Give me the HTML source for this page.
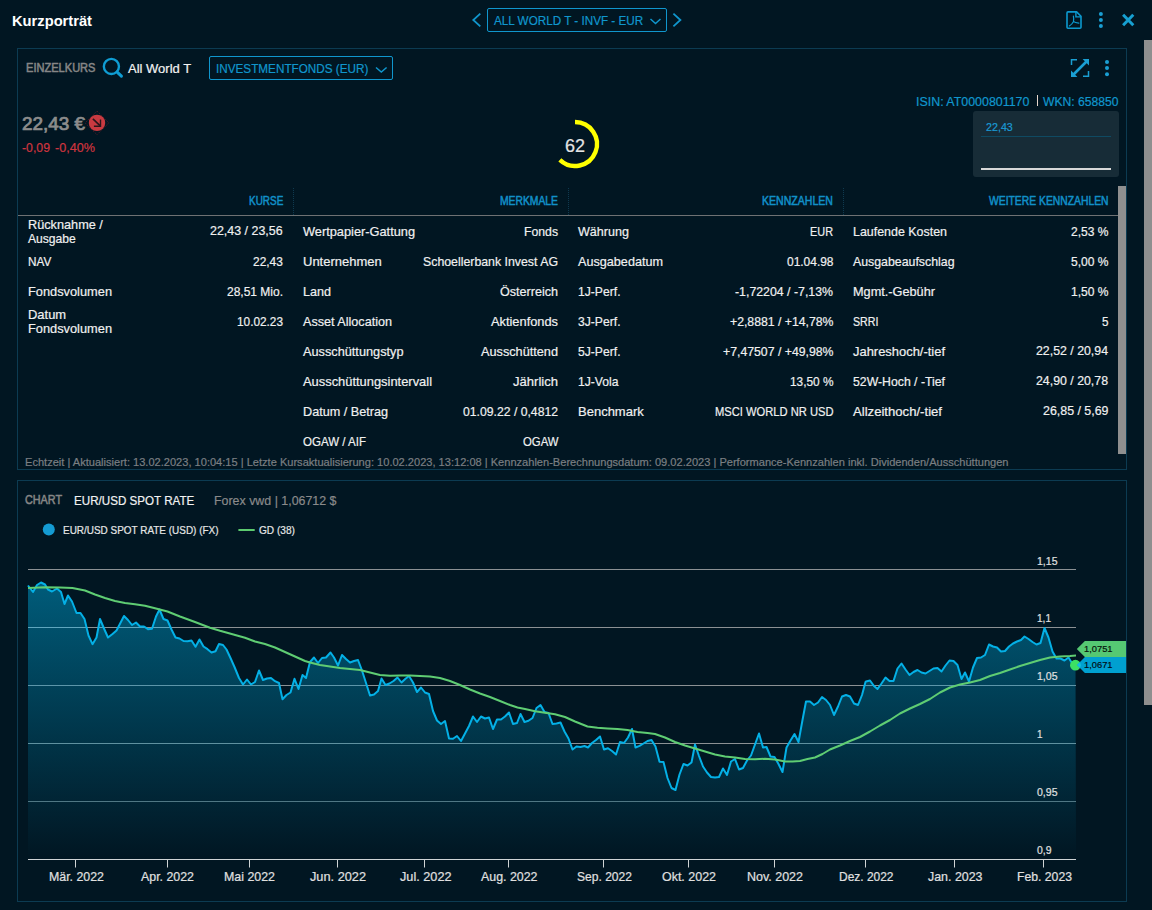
<!DOCTYPE html>
<html><head><meta charset="utf-8"><title>Kurzportr&auml;t</title>
<style>
html,body{margin:0;padding:0;}
body{width:1152px;height:910px;overflow:hidden;background:#011622;font-family:"Liberation Sans",sans-serif;position:relative;}
.t{position:absolute;white-space:nowrap;line-height:20px;}
.r{position:absolute;}
svg{position:absolute;left:0;top:0;}
</style></head><body>
<div class="r" style="left:17px;top:48px;width:1108px;height:420px;border:1px solid #0c3b52;"></div>
<div class="r" style="left:17px;top:480px;width:1108px;height:420px;border:1px solid #0c3b52;"></div>
<div class="r" style="left:1144px;top:40px;width:8px;height:665px;background:#8f8f8f;"></div>
<div class="r" style="left:1118px;top:186px;width:8px;height:268px;background:#8f8f8f;"></div>
<span class="t" style="top:10.80px;font-size:15px;color:#ffffff;font-weight:bold;left:12.00px;transform-origin:0 50%;transform:scaleX(0.9796);">Kurzporträt</span>
<div class="r" style="left:487px;top:8px;width:178px;height:22px;border:1px solid #1096cd;border-radius:2px;"></div>
<span class="t" style="top:10.50px;font-size:13px;color:#1096cd;-webkit-text-stroke:0.2px #1096cd;left:493.80px;transform-origin:0 50%;transform:scaleX(0.8993);">ALL WORLD T - INVF - EUR</span>
<span class="t" style="top:57.67px;font-size:12.5px;color:#868686;-webkit-text-stroke:0.53px #868686;left:25.50px;transform-origin:0 50%;transform:scaleX(0.8854);">EINZELKURS</span>
<span class="t" style="top:58.50px;font-size:13px;color:#f2f2f2;-webkit-text-stroke:0.2px #f2f2f2;left:128.00px;transform-origin:0 50%;">All World T</span>
<div class="r" style="left:209px;top:56px;width:182px;height:22px;border:1px solid #1096cd;border-radius:2px;"></div>
<span class="t" style="top:58.80px;font-size:13px;color:#1096cd;-webkit-text-stroke:0.2px #1096cd;left:216.40px;transform-origin:0 50%;transform:scaleX(0.9017);">INVESTMENTFONDS (EUR)</span>
<span class="t" style="top:114.44px;font-size:17.5px;color:#8c8c8c;-webkit-text-stroke:0.74px #8c8c8c;left:22.00px;transform-origin:0 50%;transform:scaleX(1.0790);">22,43 €</span>
<span class="t" style="top:137.67px;font-size:12.5px;color:#cf353f;-webkit-text-stroke:0.2px #cf353f;left:22.00px;transform-origin:0 50%;transform:scaleX(0.9827);">-0,09</span>
<span class="t" style="top:137.67px;font-size:12.5px;color:#cf353f;-webkit-text-stroke:0.2px #cf353f;left:55.00px;transform-origin:0 50%;transform:scaleX(1.0099);">-0,40%</span>
<span class="t" style="top:135.96px;font-size:18px;color:#e4e4e4;-webkit-text-stroke:0.2px #e4e4e4;left:565.00px;transform-origin:0 50%;">62</span>
<span class="t" style="top:92.27px;font-size:12.5px;color:#1096cd;-webkit-text-stroke:0.2px #1096cd;left:916.00px;transform-origin:0 50%;transform:scaleX(0.9929);">ISIN: AT0000801170</span>
<span class="t" style="top:92.27px;font-size:12.5px;color:#1096cd;-webkit-text-stroke:0.2px #1096cd;left:1043.00px;transform-origin:0 50%;transform:scaleX(0.9715);">WKN: 658850</span>
<div class="r" style="left:1036.5px;top:95px;width:1.5px;height:11px;background:#e6d6cc;"></div>
<div class="r" style="left:973px;top:111px;width:146px;height:66px;background:#172c37;border-radius:3px;"></div>
<span class="t" style="top:117.36px;font-size:10.5px;color:#1a9ad4;-webkit-text-stroke:0.2px #1a9ad4;left:985.80px;transform-origin:0 50%;transform:scaleX(1.0199);">22,43</span>
<div class="r" style="left:981px;top:136px;width:130px;height:1px;background:#0f4a62;"></div>
<div class="r" style="left:981px;top:168px;width:130px;height:2px;background:#d8d8d8;"></div>
<div class="r" style="left:18px;top:215px;width:1100px;height:1px;background:#6f7173;"></div>
<div class="r" style="left:293px;top:188px;width:0;height:27px;border-left:1px dotted #0f3a50;"></div>
<div class="r" style="left:568px;top:188px;width:0;height:27px;border-left:1px dotted #0f3a50;"></div>
<div class="r" style="left:843px;top:188px;width:0;height:27px;border-left:1px dotted #0f3a50;"></div>
<span class="t" style="top:190.67px;font-size:12.5px;color:#1190c8;-webkit-text-stroke:0.53px #1190c8;left:248.70px;transform-origin:0 50%;transform:scaleX(0.7964);">KURSE</span>
<span class="t" style="top:190.67px;font-size:12.5px;color:#1190c8;-webkit-text-stroke:0.53px #1190c8;left:500.00px;transform-origin:0 50%;transform:scaleX(0.8267);">MERKMALE</span>
<span class="t" style="top:190.67px;font-size:12.5px;color:#1190c8;-webkit-text-stroke:0.53px #1190c8;left:762.00px;transform-origin:0 50%;transform:scaleX(0.8447);">KENNZAHLEN</span>
<span class="t" style="top:190.67px;font-size:12.5px;color:#1190c8;-webkit-text-stroke:0.53px #1190c8;left:988.50px;transform-origin:0 50%;transform:scaleX(0.8272);">WEITERE KENNZAHLEN</span>
<span class="t" style="top:215.00px;font-size:13px;color:#f0f0f0;-webkit-text-stroke:0.2px #f0f0f0;left:28.00px;transform-origin:0 50%;transform:scaleX(0.9779);">Rücknahme /</span>
<span class="t" style="top:228.50px;font-size:13px;color:#f0f0f0;-webkit-text-stroke:0.2px #f0f0f0;left:28.00px;transform-origin:0 50%;transform:scaleX(0.9314);">Ausgabe</span>
<span class="t" style="top:220.70px;font-size:13px;color:#f0f0f0;-webkit-text-stroke:0.2px #f0f0f0;left:210.40px;transform-origin:0 50%;transform:scaleX(0.9565);">22,43 / 23,56</span>
<span class="t" style="top:251.50px;font-size:13px;color:#f0f0f0;-webkit-text-stroke:0.2px #f0f0f0;left:28.00px;transform-origin:0 50%;transform:scaleX(0.9043);">NAV</span>
<span class="t" style="top:251.50px;font-size:13px;color:#f0f0f0;-webkit-text-stroke:0.2px #f0f0f0;left:253.10px;transform-origin:0 50%;transform:scaleX(0.9191);">22,43</span>
<span class="t" style="top:281.50px;font-size:13px;color:#f0f0f0;-webkit-text-stroke:0.2px #f0f0f0;left:28.00px;transform-origin:0 50%;transform:scaleX(0.9851);">Fondsvolumen</span>
<span class="t" style="top:281.50px;font-size:13px;color:#f0f0f0;-webkit-text-stroke:0.2px #f0f0f0;left:227.00px;transform-origin:0 50%;transform:scaleX(0.9225);">28,51 Mio.</span>
<span class="t" style="top:305.00px;font-size:13px;color:#f0f0f0;-webkit-text-stroke:0.2px #f0f0f0;left:28.00px;transform-origin:0 50%;transform:scaleX(0.9950);">Datum</span>
<span class="t" style="top:318.50px;font-size:13px;color:#f0f0f0;-webkit-text-stroke:0.2px #f0f0f0;left:28.00px;transform-origin:0 50%;transform:scaleX(0.9851);">Fondsvolumen</span>
<span class="t" style="top:311.50px;font-size:13px;color:#f0f0f0;-webkit-text-stroke:0.2px #f0f0f0;left:237.00px;transform-origin:0 50%;transform:scaleX(0.9090);">10.02.23</span>
<span class="t" style="top:221.50px;font-size:13px;color:#f0f0f0;-webkit-text-stroke:0.2px #f0f0f0;left:303.00px;transform-origin:0 50%;transform:scaleX(0.9831);">Wertpapier-Gattung</span>
<span class="t" style="top:221.50px;font-size:13px;color:#f0f0f0;-webkit-text-stroke:0.2px #f0f0f0;left:524.00px;transform-origin:0 50%;transform:scaleX(0.9410);">Fonds</span>
<span class="t" style="top:251.50px;font-size:13px;color:#f0f0f0;-webkit-text-stroke:0.2px #f0f0f0;left:303.00px;transform-origin:0 50%;">Unternehmen</span>
<span class="t" style="top:251.50px;font-size:13px;color:#f0f0f0;-webkit-text-stroke:0.2px #f0f0f0;left:423.00px;transform-origin:0 50%;transform:scaleX(0.9483);">Schoellerbank Invest AG</span>
<span class="t" style="top:281.50px;font-size:13px;color:#f0f0f0;-webkit-text-stroke:0.2px #f0f0f0;left:303.00px;transform-origin:0 50%;transform:scaleX(0.9682);">Land</span>
<span class="t" style="top:281.50px;font-size:13px;color:#f0f0f0;-webkit-text-stroke:0.2px #f0f0f0;left:500.00px;transform-origin:0 50%;transform:scaleX(0.9673);">Österreich</span>
<span class="t" style="top:311.50px;font-size:13px;color:#f0f0f0;-webkit-text-stroke:0.2px #f0f0f0;left:303.00px;transform-origin:0 50%;transform:scaleX(0.9697);">Asset Allocation</span>
<span class="t" style="top:311.50px;font-size:13px;color:#f0f0f0;-webkit-text-stroke:0.2px #f0f0f0;left:491.00px;transform-origin:0 50%;transform:scaleX(0.9862);">Aktienfonds</span>
<span class="t" style="top:341.50px;font-size:13px;color:#f0f0f0;-webkit-text-stroke:0.2px #f0f0f0;left:303.00px;transform-origin:0 50%;transform:scaleX(0.9794);">Ausschüttungstyp</span>
<span class="t" style="top:341.50px;font-size:13px;color:#f0f0f0;-webkit-text-stroke:0.2px #f0f0f0;left:481.00px;transform-origin:0 50%;transform:scaleX(0.9775);">Ausschüttend</span>
<span class="t" style="top:371.50px;font-size:13px;color:#f0f0f0;-webkit-text-stroke:0.2px #f0f0f0;left:303.00px;transform-origin:0 50%;transform:scaleX(0.9917);">Ausschüttungsintervall</span>
<span class="t" style="top:371.50px;font-size:13px;color:#f0f0f0;-webkit-text-stroke:0.2px #f0f0f0;left:513.00px;transform-origin:0 50%;transform:scaleX(1.0045);">Jährlich</span>
<span class="t" style="top:401.50px;font-size:13px;color:#f0f0f0;-webkit-text-stroke:0.2px #f0f0f0;left:303.00px;transform-origin:0 50%;transform:scaleX(0.9722);">Datum / Betrag</span>
<span class="t" style="top:401.50px;font-size:13px;color:#f0f0f0;-webkit-text-stroke:0.2px #f0f0f0;left:463.00px;transform-origin:0 50%;transform:scaleX(0.9387);">01.09.22 / 0,4812</span>
<span class="t" style="top:431.50px;font-size:13px;color:#f0f0f0;-webkit-text-stroke:0.2px #f0f0f0;left:303.00px;transform-origin:0 50%;transform:scaleX(0.8870);">OGAW / AIF</span>
<span class="t" style="top:431.50px;font-size:13px;color:#f0f0f0;-webkit-text-stroke:0.2px #f0f0f0;left:522.50px;transform-origin:0 50%;transform:scaleX(0.8726);">OGAW</span>
<span class="t" style="top:221.50px;font-size:13px;color:#f0f0f0;-webkit-text-stroke:0.2px #f0f0f0;left:578.00px;transform-origin:0 50%;transform:scaleX(0.9668);">Währung</span>
<span class="t" style="top:221.50px;font-size:13px;color:#f0f0f0;-webkit-text-stroke:0.2px #f0f0f0;left:810.00px;transform-origin:0 50%;transform:scaleX(0.8379);">EUR</span>
<span class="t" style="top:251.50px;font-size:13px;color:#f0f0f0;-webkit-text-stroke:0.2px #f0f0f0;left:578.00px;transform-origin:0 50%;transform:scaleX(0.9719);">Ausgabedatum</span>
<span class="t" style="top:251.50px;font-size:13px;color:#f0f0f0;-webkit-text-stroke:0.2px #f0f0f0;left:786.50px;transform-origin:0 50%;transform:scaleX(0.9189);">01.04.98</span>
<span class="t" style="top:281.50px;font-size:13px;color:#f0f0f0;-webkit-text-stroke:0.2px #f0f0f0;left:578.00px;transform-origin:0 50%;transform:scaleX(0.9338);">1J-Perf.</span>
<span class="t" style="top:281.50px;font-size:13px;color:#f0f0f0;-webkit-text-stroke:0.2px #f0f0f0;left:735.00px;transform-origin:0 50%;transform:scaleX(0.9483);">-1,72204 / -7,13%</span>
<span class="t" style="top:311.50px;font-size:13px;color:#f0f0f0;-webkit-text-stroke:0.2px #f0f0f0;left:578.00px;transform-origin:0 50%;transform:scaleX(0.9338);">3J-Perf.</span>
<span class="t" style="top:311.50px;font-size:13px;color:#f0f0f0;-webkit-text-stroke:0.2px #f0f0f0;left:729.50px;transform-origin:0 50%;transform:scaleX(0.9420);">+2,8881 / +14,78%</span>
<span class="t" style="top:341.50px;font-size:13px;color:#f0f0f0;-webkit-text-stroke:0.2px #f0f0f0;left:578.00px;transform-origin:0 50%;transform:scaleX(0.9338);">5J-Perf.</span>
<span class="t" style="top:341.50px;font-size:13px;color:#f0f0f0;-webkit-text-stroke:0.2px #f0f0f0;left:722.50px;transform-origin:0 50%;transform:scaleX(0.9436);">+7,47507 / +49,98%</span>
<span class="t" style="top:371.50px;font-size:13px;color:#f0f0f0;-webkit-text-stroke:0.2px #f0f0f0;left:578.00px;transform-origin:0 50%;transform:scaleX(0.9340);">1J-Vola</span>
<span class="t" style="top:371.50px;font-size:13px;color:#f0f0f0;-webkit-text-stroke:0.2px #f0f0f0;left:789.50px;transform-origin:0 50%;transform:scaleX(0.9119);">13,50 %</span>
<span class="t" style="top:401.50px;font-size:13px;color:#f0f0f0;-webkit-text-stroke:0.2px #f0f0f0;left:578.00px;transform-origin:0 50%;">Benchmark</span>
<span class="t" style="top:401.50px;font-size:13px;color:#f0f0f0;-webkit-text-stroke:0.2px #f0f0f0;left:714.50px;transform-origin:0 50%;transform:scaleX(0.8590);">MSCI WORLD NR USD</span>
<span class="t" style="top:221.50px;font-size:13px;color:#f0f0f0;-webkit-text-stroke:0.2px #f0f0f0;left:853.00px;transform-origin:0 50%;transform:scaleX(0.9562);">Laufende Kosten</span>
<span class="t" style="top:221.50px;font-size:13px;color:#f0f0f0;-webkit-text-stroke:0.2px #f0f0f0;left:1070.50px;transform-origin:0 50%;transform:scaleX(0.9266);">2,53 %</span>
<span class="t" style="top:251.50px;font-size:13px;color:#f0f0f0;-webkit-text-stroke:0.2px #f0f0f0;left:853.00px;transform-origin:0 50%;transform:scaleX(0.9488);">Ausgabeaufschlag</span>
<span class="t" style="top:251.50px;font-size:13px;color:#f0f0f0;-webkit-text-stroke:0.2px #f0f0f0;left:1070.50px;transform-origin:0 50%;transform:scaleX(0.9266);">5,00 %</span>
<span class="t" style="top:281.50px;font-size:13px;color:#f0f0f0;-webkit-text-stroke:0.2px #f0f0f0;left:853.00px;transform-origin:0 50%;transform:scaleX(0.9785);">Mgmt.-Gebühr</span>
<span class="t" style="top:281.50px;font-size:13px;color:#f0f0f0;-webkit-text-stroke:0.2px #f0f0f0;left:1070.50px;transform-origin:0 50%;transform:scaleX(0.9266);">1,50 %</span>
<span class="t" style="top:311.50px;font-size:13px;color:#f0f0f0;-webkit-text-stroke:0.2px #f0f0f0;left:853.00px;transform-origin:0 50%;transform:scaleX(0.8210);">SRRI</span>
<span class="t" style="top:311.50px;font-size:13px;color:#f0f0f0;-webkit-text-stroke:0.2px #f0f0f0;left:1101.50px;transform-origin:0 50%;transform:scaleX(0.8990);">5</span>
<span class="t" style="top:341.50px;font-size:13px;color:#f0f0f0;-webkit-text-stroke:0.2px #f0f0f0;left:853.00px;transform-origin:0 50%;transform:scaleX(0.9947);">Jahreshoch/-tief</span>
<span class="t" style="top:340.80px;font-size:13px;color:#f0f0f0;-webkit-text-stroke:0.2px #f0f0f0;left:1036.00px;transform-origin:0 50%;transform:scaleX(0.9486);">22,52 / 20,94</span>
<span class="t" style="top:371.50px;font-size:13px;color:#f0f0f0;-webkit-text-stroke:0.2px #f0f0f0;left:853.00px;transform-origin:0 50%;transform:scaleX(0.9433);">52W-Hoch / -Tief</span>
<span class="t" style="top:370.80px;font-size:13px;color:#f0f0f0;-webkit-text-stroke:0.2px #f0f0f0;left:1036.00px;transform-origin:0 50%;transform:scaleX(0.9486);">24,90 / 20,78</span>
<span class="t" style="top:401.50px;font-size:13px;color:#f0f0f0;-webkit-text-stroke:0.2px #f0f0f0;left:853.00px;transform-origin:0 50%;transform:scaleX(1.0096);">Allzeithoch/-tief</span>
<span class="t" style="top:400.80px;font-size:13px;color:#f0f0f0;-webkit-text-stroke:0.2px #f0f0f0;left:1042.50px;transform-origin:0 50%;transform:scaleX(0.9538);">26,85 / 5,69</span>
<span class="t" style="top:451.89px;font-size:11px;color:#7b7f82;-webkit-text-stroke:0.2px #7b7f82;left:25.00px;transform-origin:0 50%;transform:scaleX(1.0060);">Echtzeit | Aktualisiert: 13.02.2023, 10:04:15 | Letzte Kursaktualisierung: 10.02.2023, 13:12:08 | Kennzahlen-Berechnungsdatum: 09.02.2023 | Performance-Kennzahlen inkl. Dividenden/Ausschüttungen</span>
<span class="t" style="top:490.17px;font-size:12.5px;color:#868686;-webkit-text-stroke:0.53px #868686;left:25.00px;transform-origin:0 50%;transform:scaleX(0.8639);">CHART</span>
<span class="t" style="top:490.50px;font-size:13px;color:#f2f2f2;-webkit-text-stroke:0.2px #f2f2f2;left:74.40px;transform-origin:0 50%;transform:scaleX(0.8938);">EUR/USD SPOT RATE</span>
<span class="t" style="top:490.50px;font-size:13px;color:#8a8a8a;-webkit-text-stroke:0.2px #8a8a8a;left:213.75px;transform-origin:0 50%;transform:scaleX(0.9541);">Forex vwd | 1,06712 $</span>
<span class="t" style="top:519.94px;font-size:11px;color:#e6e6e6;-webkit-text-stroke:0.2px #e6e6e6;left:62.50px;transform-origin:0 50%;transform:scaleX(0.9044);">EUR/USD SPOT RATE (USD) (FX)</span>
<span class="t" style="top:519.94px;font-size:11px;color:#e6e6e6;-webkit-text-stroke:0.2px #e6e6e6;left:259.40px;transform-origin:0 50%;transform:scaleX(0.9177);">GD (38)</span>
<span class="t" style="top:867.00px;font-size:13px;color:#e0e0e0;-webkit-text-stroke:0.2px #e0e0e0;left:49.00px;transform-origin:0 50%;transform:scaleX(0.9513);">Mär. 2022</span>
<span class="t" style="top:867.00px;font-size:13px;color:#e0e0e0;-webkit-text-stroke:0.2px #e0e0e0;left:141.00px;transform-origin:0 50%;transform:scaleX(0.9522);">Apr. 2022</span>
<span class="t" style="top:867.00px;font-size:13px;color:#e0e0e0;-webkit-text-stroke:0.2px #e0e0e0;left:224.00px;transform-origin:0 50%;transform:scaleX(0.9536);">Mai 2022</span>
<span class="t" style="top:867.00px;font-size:13px;color:#e0e0e0;-webkit-text-stroke:0.2px #e0e0e0;left:310.00px;transform-origin:0 50%;transform:scaleX(0.9807);">Jun. 2022</span>
<span class="t" style="top:867.00px;font-size:13px;color:#e0e0e0;-webkit-text-stroke:0.2px #e0e0e0;left:399.50px;transform-origin:0 50%;transform:scaleX(0.9761);">Jul. 2022</span>
<span class="t" style="top:867.00px;font-size:13px;color:#e0e0e0;-webkit-text-stroke:0.2px #e0e0e0;left:480.50px;transform-origin:0 50%;transform:scaleX(0.9532);">Aug. 2022</span>
<span class="t" style="top:867.00px;font-size:13px;color:#e0e0e0;-webkit-text-stroke:0.2px #e0e0e0;left:576.50px;transform-origin:0 50%;transform:scaleX(0.9279);">Sep. 2022</span>
<span class="t" style="top:867.00px;font-size:13px;color:#e0e0e0;-webkit-text-stroke:0.2px #e0e0e0;left:661.50px;transform-origin:0 50%;transform:scaleX(0.9580);">Okt. 2022</span>
<span class="t" style="top:867.00px;font-size:13px;color:#e0e0e0;-webkit-text-stroke:0.2px #e0e0e0;left:746.50px;transform-origin:0 50%;transform:scaleX(0.9606);">Nov. 2022</span>
<span class="t" style="top:867.00px;font-size:13px;color:#e0e0e0;-webkit-text-stroke:0.2px #e0e0e0;left:838.50px;transform-origin:0 50%;transform:scaleX(0.9196);">Dez. 2022</span>
<span class="t" style="top:867.00px;font-size:13px;color:#e0e0e0;-webkit-text-stroke:0.2px #e0e0e0;left:927.50px;transform-origin:0 50%;transform:scaleX(0.9544);">Jan. 2023</span>
<span class="t" style="top:867.00px;font-size:13px;color:#e0e0e0;-webkit-text-stroke:0.2px #e0e0e0;left:1016.50px;transform-origin:0 50%;transform:scaleX(0.9394);">Feb. 2023</span>
<svg width="1152" height="910" viewBox="0 0 1152 910">
<defs><linearGradient id="ag" x1="0" y1="570" x2="0" y2="859" gradientUnits="userSpaceOnUse"><stop offset="0" stop-color="#005f7e"/><stop offset="1" stop-color="#011622"/></linearGradient>
<clipPath id="ac"><polygon points="28.0,859.0 28.0,585.5 33.0,592.0 37.0,585.0 41.0,582.5 45.0,584.5 48.0,589.5 52.0,591.5 57.0,588.5 61.0,592.0 64.5,604.0 68.0,595.5 72.0,601.5 76.5,613.0 80.5,613.0 84.5,619.0 88.5,635.5 92.5,644.2 96.5,637.5 100.0,619.0 104.0,628.5 108.0,637.5 112.5,634.0 116.5,630.5 120.0,623.8 124.0,616.0 128.0,620.0 132.0,625.0 136.0,622.5 140.0,626.5 144.0,626.5 148.0,629.2 152.0,628.8 156.0,616.5 159.5,609.5 163.5,619.0 167.5,620.5 171.5,629.5 175.5,637.5 179.5,638.5 183.5,641.0 187.5,641.2 191.5,640.5 195.5,646.8 199.5,639.5 203.5,646.5 207.5,649.2 211.5,652.5 215.5,651.2 219.0,644.0 223.0,645.0 226.5,649.5 230.5,658.0 234.5,667.0 239.0,678.0 243.0,684.5 247.0,679.5 251.0,684.5 255.0,682.0 259.0,670.5 263.0,680.0 267.0,678.5 271.0,678.0 275.0,681.2 279.0,683.0 282.5,699.2 286.5,695.0 290.5,692.5 294.5,678.8 298.5,689.0 302.5,675.0 306.0,678.0 310.0,662.0 314.0,657.5 318.0,663.0 322.0,658.0 326.0,657.5 330.5,652.5 334.0,657.5 338.0,665.5 342.0,655.0 346.0,659.0 350.0,662.5 354.0,661.0 358.0,660.0 362.0,670.5 366.0,683.0 370.0,695.5 374.0,694.5 378.0,691.0 381.5,678.5 385.5,685.0 389.5,683.5 393.5,681.0 397.5,677.5 401.5,682.5 405.5,678.8 409.0,676.0 413.0,682.5 417.0,692.0 421.0,687.5 425.0,692.5 429.0,694.0 433.0,711.0 437.0,720.5 441.0,724.0 445.0,721.0 449.0,738.5 453.0,738.8 457.0,736.0 461.0,741.0 465.0,733.5 469.0,726.0 473.0,716.5 477.0,722.0 481.0,716.5 485.0,718.5 489.0,717.5 493.0,729.0 497.0,719.5 501.0,719.5 505.0,716.5 509.0,712.5 513.0,724.0 517.0,723.0 520.5,714.0 524.5,722.0 528.5,720.8 532.5,718.0 536.5,708.0 540.5,705.0 544.5,712.0 548.5,713.0 552.5,724.0 556.5,723.5 560.5,722.5 564.5,731.5 568.5,738.5 572.5,749.5 576.5,746.5 580.5,747.0 584.5,746.0 588.0,747.5 592.0,743.0 596.0,740.0 600.0,736.5 604.0,749.5 608.0,748.2 612.0,751.0 616.0,754.5 620.0,742.0 624.0,743.0 628.0,737.5 632.0,729.0 635.5,747.5 639.5,745.8 643.5,743.5 647.5,741.0 651.5,740.0 655.5,746.5 659.5,761.8 663.5,762.0 667.5,778.0 671.5,788.0 675.5,790.0 679.5,774.5 683.5,764.0 687.5,765.5 691.5,762.5 695.0,744.5 699.0,756.0 703.0,766.5 707.0,772.5 711.0,777.0 715.0,777.5 719.0,777.0 723.0,768.5 727.0,775.0 731.0,761.5 735.0,759.0 739.0,769.5 743.0,768.0 747.0,760.5 751.0,755.5 755.0,744.5 759.0,733.5 763.0,747.5 766.5,747.0 770.5,756.5 774.5,757.0 778.5,764.0 782.5,772.0 786.5,747.5 790.5,740.5 794.5,734.0 798.5,742.0 802.5,720.0 806.0,701.5 810.0,701.5 814.0,705.0 818.0,702.5 822.0,697.0 826.0,700.0 830.0,705.0 834.0,715.0 838.0,706.5 842.0,696.5 846.0,695.0 850.0,696.5 854.0,703.5 858.0,705.0 862.0,695.0 865.5,682.0 866.0,681.5 870.0,680.5 874.0,686.0 877.5,689.0 881.5,683.5 885.5,677.5 889.5,681.0 893.5,681.0 897.5,668.5 901.5,663.5 905.5,669.5 909.5,675.0 913.5,672.0 917.5,670.0 921.5,672.5 925.5,673.5 929.5,671.0 933.5,668.5 937.5,668.0 941.5,671.5 945.5,665.5 949.5,660.5 953.5,661.0 957.5,665.0 961.5,679.0 965.0,672.5 969.0,681.5 973.0,667.5 977.0,658.0 981.0,657.5 985.0,655.0 989.0,644.5 993.0,646.5 997.0,647.5 1001.0,651.5 1005.0,651.0 1009.0,646.5 1013.0,643.5 1017.0,641.5 1021.0,640.0 1024.5,636.5 1028.5,639.0 1032.5,642.0 1036.5,644.5 1040.5,643.0 1044.5,628.0 1048.5,637.5 1052.5,651.5 1056.5,658.5 1060.5,658.5 1064.5,660.5 1068.5,657.5 1072.5,664.0 1075.5,665.0 1076.0,859.0"/></clipPath></defs>
<polygon points="28.0,859.0 28.0,585.5 33.0,592.0 37.0,585.0 41.0,582.5 45.0,584.5 48.0,589.5 52.0,591.5 57.0,588.5 61.0,592.0 64.5,604.0 68.0,595.5 72.0,601.5 76.5,613.0 80.5,613.0 84.5,619.0 88.5,635.5 92.5,644.2 96.5,637.5 100.0,619.0 104.0,628.5 108.0,637.5 112.5,634.0 116.5,630.5 120.0,623.8 124.0,616.0 128.0,620.0 132.0,625.0 136.0,622.5 140.0,626.5 144.0,626.5 148.0,629.2 152.0,628.8 156.0,616.5 159.5,609.5 163.5,619.0 167.5,620.5 171.5,629.5 175.5,637.5 179.5,638.5 183.5,641.0 187.5,641.2 191.5,640.5 195.5,646.8 199.5,639.5 203.5,646.5 207.5,649.2 211.5,652.5 215.5,651.2 219.0,644.0 223.0,645.0 226.5,649.5 230.5,658.0 234.5,667.0 239.0,678.0 243.0,684.5 247.0,679.5 251.0,684.5 255.0,682.0 259.0,670.5 263.0,680.0 267.0,678.5 271.0,678.0 275.0,681.2 279.0,683.0 282.5,699.2 286.5,695.0 290.5,692.5 294.5,678.8 298.5,689.0 302.5,675.0 306.0,678.0 310.0,662.0 314.0,657.5 318.0,663.0 322.0,658.0 326.0,657.5 330.5,652.5 334.0,657.5 338.0,665.5 342.0,655.0 346.0,659.0 350.0,662.5 354.0,661.0 358.0,660.0 362.0,670.5 366.0,683.0 370.0,695.5 374.0,694.5 378.0,691.0 381.5,678.5 385.5,685.0 389.5,683.5 393.5,681.0 397.5,677.5 401.5,682.5 405.5,678.8 409.0,676.0 413.0,682.5 417.0,692.0 421.0,687.5 425.0,692.5 429.0,694.0 433.0,711.0 437.0,720.5 441.0,724.0 445.0,721.0 449.0,738.5 453.0,738.8 457.0,736.0 461.0,741.0 465.0,733.5 469.0,726.0 473.0,716.5 477.0,722.0 481.0,716.5 485.0,718.5 489.0,717.5 493.0,729.0 497.0,719.5 501.0,719.5 505.0,716.5 509.0,712.5 513.0,724.0 517.0,723.0 520.5,714.0 524.5,722.0 528.5,720.8 532.5,718.0 536.5,708.0 540.5,705.0 544.5,712.0 548.5,713.0 552.5,724.0 556.5,723.5 560.5,722.5 564.5,731.5 568.5,738.5 572.5,749.5 576.5,746.5 580.5,747.0 584.5,746.0 588.0,747.5 592.0,743.0 596.0,740.0 600.0,736.5 604.0,749.5 608.0,748.2 612.0,751.0 616.0,754.5 620.0,742.0 624.0,743.0 628.0,737.5 632.0,729.0 635.5,747.5 639.5,745.8 643.5,743.5 647.5,741.0 651.5,740.0 655.5,746.5 659.5,761.8 663.5,762.0 667.5,778.0 671.5,788.0 675.5,790.0 679.5,774.5 683.5,764.0 687.5,765.5 691.5,762.5 695.0,744.5 699.0,756.0 703.0,766.5 707.0,772.5 711.0,777.0 715.0,777.5 719.0,777.0 723.0,768.5 727.0,775.0 731.0,761.5 735.0,759.0 739.0,769.5 743.0,768.0 747.0,760.5 751.0,755.5 755.0,744.5 759.0,733.5 763.0,747.5 766.5,747.0 770.5,756.5 774.5,757.0 778.5,764.0 782.5,772.0 786.5,747.5 790.5,740.5 794.5,734.0 798.5,742.0 802.5,720.0 806.0,701.5 810.0,701.5 814.0,705.0 818.0,702.5 822.0,697.0 826.0,700.0 830.0,705.0 834.0,715.0 838.0,706.5 842.0,696.5 846.0,695.0 850.0,696.5 854.0,703.5 858.0,705.0 862.0,695.0 865.5,682.0 866.0,681.5 870.0,680.5 874.0,686.0 877.5,689.0 881.5,683.5 885.5,677.5 889.5,681.0 893.5,681.0 897.5,668.5 901.5,663.5 905.5,669.5 909.5,675.0 913.5,672.0 917.5,670.0 921.5,672.5 925.5,673.5 929.5,671.0 933.5,668.5 937.5,668.0 941.5,671.5 945.5,665.5 949.5,660.5 953.5,661.0 957.5,665.0 961.5,679.0 965.0,672.5 969.0,681.5 973.0,667.5 977.0,658.0 981.0,657.5 985.0,655.0 989.0,644.5 993.0,646.5 997.0,647.5 1001.0,651.5 1005.0,651.0 1009.0,646.5 1013.0,643.5 1017.0,641.5 1021.0,640.0 1024.5,636.5 1028.5,639.0 1032.5,642.0 1036.5,644.5 1040.5,643.0 1044.5,628.0 1048.5,637.5 1052.5,651.5 1056.5,658.5 1060.5,658.5 1064.5,660.5 1068.5,657.5 1072.5,664.0 1075.5,665.0 1076.0,859.0" fill="url(#ag)"/>
<line x1="28" x2="1076" y1="569.5" y2="569.5" stroke="#8c9194" stroke-width="1"/>
<line x1="28" x2="1076" y1="627.5" y2="627.5" stroke="#8c9194" stroke-width="1"/>
<line x1="28" x2="1076" y1="627.5" y2="627.5" stroke="#5fa6be" stroke-width="1" clip-path="url(#ac)"/>
<line x1="28" x2="1076" y1="685.5" y2="685.5" stroke="#8c9194" stroke-width="1"/>
<line x1="28" x2="1076" y1="685.5" y2="685.5" stroke="#5d96aa" stroke-width="1" clip-path="url(#ac)"/>
<line x1="28" x2="1076" y1="743.5" y2="743.5" stroke="#8c9194" stroke-width="1"/>
<line x1="28" x2="1076" y1="743.5" y2="743.5" stroke="#5f91a0" stroke-width="1" clip-path="url(#ac)"/>
<line x1="28" x2="1076" y1="801.5" y2="801.5" stroke="#8c9194" stroke-width="1"/>
<line x1="28" x2="1076" y1="801.5" y2="801.5" stroke="#507784" stroke-width="1" clip-path="url(#ac)"/>
<line x1="28" x2="1076" y1="859.5" y2="859.5" stroke="#d0d4d6" stroke-width="1.2"/>
<line x1="75.5" x2="75.5" y1="859" y2="867.5" stroke="#d0d4d6" stroke-width="1"/>
<line x1="167.5" x2="167.5" y1="859" y2="867.5" stroke="#d0d4d6" stroke-width="1"/>
<line x1="249.5" x2="249.5" y1="859" y2="867.5" stroke="#d0d4d6" stroke-width="1"/>
<line x1="337.5" x2="337.5" y1="859" y2="867.5" stroke="#d0d4d6" stroke-width="1"/>
<line x1="424.5" x2="424.5" y1="859" y2="867.5" stroke="#d0d4d6" stroke-width="1"/>
<line x1="508.5" x2="508.5" y1="859" y2="867.5" stroke="#d0d4d6" stroke-width="1"/>
<line x1="603.5" x2="603.5" y1="859" y2="867.5" stroke="#d0d4d6" stroke-width="1"/>
<line x1="688.5" x2="688.5" y1="859" y2="867.5" stroke="#d0d4d6" stroke-width="1"/>
<line x1="774.5" x2="774.5" y1="859" y2="867.5" stroke="#d0d4d6" stroke-width="1"/>
<line x1="865.5" x2="865.5" y1="859" y2="867.5" stroke="#d0d4d6" stroke-width="1"/>
<line x1="954.5" x2="954.5" y1="859" y2="867.5" stroke="#d0d4d6" stroke-width="1"/>
<line x1="1043.5" x2="1043.5" y1="859" y2="867.5" stroke="#d0d4d6" stroke-width="1"/>
<polyline points="28.0,585.5 33.0,592.0 37.0,585.0 41.0,582.5 45.0,584.5 48.0,589.5 52.0,591.5 57.0,588.5 61.0,592.0 64.5,604.0 68.0,595.5 72.0,601.5 76.5,613.0 80.5,613.0 84.5,619.0 88.5,635.5 92.5,644.2 96.5,637.5 100.0,619.0 104.0,628.5 108.0,637.5 112.5,634.0 116.5,630.5 120.0,623.8 124.0,616.0 128.0,620.0 132.0,625.0 136.0,622.5 140.0,626.5 144.0,626.5 148.0,629.2 152.0,628.8 156.0,616.5 159.5,609.5 163.5,619.0 167.5,620.5 171.5,629.5 175.5,637.5 179.5,638.5 183.5,641.0 187.5,641.2 191.5,640.5 195.5,646.8 199.5,639.5 203.5,646.5 207.5,649.2 211.5,652.5 215.5,651.2 219.0,644.0 223.0,645.0 226.5,649.5 230.5,658.0 234.5,667.0 239.0,678.0 243.0,684.5 247.0,679.5 251.0,684.5 255.0,682.0 259.0,670.5 263.0,680.0 267.0,678.5 271.0,678.0 275.0,681.2 279.0,683.0 282.5,699.2 286.5,695.0 290.5,692.5 294.5,678.8 298.5,689.0 302.5,675.0 306.0,678.0 310.0,662.0 314.0,657.5 318.0,663.0 322.0,658.0 326.0,657.5 330.5,652.5 334.0,657.5 338.0,665.5 342.0,655.0 346.0,659.0 350.0,662.5 354.0,661.0 358.0,660.0 362.0,670.5 366.0,683.0 370.0,695.5 374.0,694.5 378.0,691.0 381.5,678.5 385.5,685.0 389.5,683.5 393.5,681.0 397.5,677.5 401.5,682.5 405.5,678.8 409.0,676.0 413.0,682.5 417.0,692.0 421.0,687.5 425.0,692.5 429.0,694.0 433.0,711.0 437.0,720.5 441.0,724.0 445.0,721.0 449.0,738.5 453.0,738.8 457.0,736.0 461.0,741.0 465.0,733.5 469.0,726.0 473.0,716.5 477.0,722.0 481.0,716.5 485.0,718.5 489.0,717.5 493.0,729.0 497.0,719.5 501.0,719.5 505.0,716.5 509.0,712.5 513.0,724.0 517.0,723.0 520.5,714.0 524.5,722.0 528.5,720.8 532.5,718.0 536.5,708.0 540.5,705.0 544.5,712.0 548.5,713.0 552.5,724.0 556.5,723.5 560.5,722.5 564.5,731.5 568.5,738.5 572.5,749.5 576.5,746.5 580.5,747.0 584.5,746.0 588.0,747.5 592.0,743.0 596.0,740.0 600.0,736.5 604.0,749.5 608.0,748.2 612.0,751.0 616.0,754.5 620.0,742.0 624.0,743.0 628.0,737.5 632.0,729.0 635.5,747.5 639.5,745.8 643.5,743.5 647.5,741.0 651.5,740.0 655.5,746.5 659.5,761.8 663.5,762.0 667.5,778.0 671.5,788.0 675.5,790.0 679.5,774.5 683.5,764.0 687.5,765.5 691.5,762.5 695.0,744.5 699.0,756.0 703.0,766.5 707.0,772.5 711.0,777.0 715.0,777.5 719.0,777.0 723.0,768.5 727.0,775.0 731.0,761.5 735.0,759.0 739.0,769.5 743.0,768.0 747.0,760.5 751.0,755.5 755.0,744.5 759.0,733.5 763.0,747.5 766.5,747.0 770.5,756.5 774.5,757.0 778.5,764.0 782.5,772.0 786.5,747.5 790.5,740.5 794.5,734.0 798.5,742.0 802.5,720.0 806.0,701.5 810.0,701.5 814.0,705.0 818.0,702.5 822.0,697.0 826.0,700.0 830.0,705.0 834.0,715.0 838.0,706.5 842.0,696.5 846.0,695.0 850.0,696.5 854.0,703.5 858.0,705.0 862.0,695.0 865.5,682.0 866.0,681.5 870.0,680.5 874.0,686.0 877.5,689.0 881.5,683.5 885.5,677.5 889.5,681.0 893.5,681.0 897.5,668.5 901.5,663.5 905.5,669.5 909.5,675.0 913.5,672.0 917.5,670.0 921.5,672.5 925.5,673.5 929.5,671.0 933.5,668.5 937.5,668.0 941.5,671.5 945.5,665.5 949.5,660.5 953.5,661.0 957.5,665.0 961.5,679.0 965.0,672.5 969.0,681.5 973.0,667.5 977.0,658.0 981.0,657.5 985.0,655.0 989.0,644.5 993.0,646.5 997.0,647.5 1001.0,651.5 1005.0,651.0 1009.0,646.5 1013.0,643.5 1017.0,641.5 1021.0,640.0 1024.5,636.5 1028.5,639.0 1032.5,642.0 1036.5,644.5 1040.5,643.0 1044.5,628.0 1048.5,637.5 1052.5,651.5 1056.5,658.5 1060.5,658.5 1064.5,660.5 1068.5,657.5 1072.5,664.0 1075.5,665.0" fill="none" stroke="#04b0e6" stroke-width="2" stroke-linejoin="round"/>
<polyline points="28.0,588.0 45.0,587.2 60.0,587.5 72.5,588.0 85.0,590.5 95.0,594.5 105.0,598.0 115.0,601.0 125.0,603.0 135.0,604.2 145.0,605.8 155.0,608.2 167.5,611.5 180.0,616.5 195.0,622.0 210.0,627.8 220.0,630.8 232.5,634.2 245.0,637.8 255.0,641.5 265.0,644.0 275.0,647.5 285.0,652.0 295.0,656.5 305.0,661.0 310.0,662.5 320.0,665.0 330.0,666.5 340.0,668.0 350.0,669.0 360.0,670.0 370.0,672.5 380.0,675.0 390.0,675.8 400.0,675.5 410.0,675.5 420.0,676.0 430.0,676.5 440.0,678.0 450.0,681.0 460.0,685.0 470.0,689.5 480.0,693.5 490.0,697.0 500.0,701.0 510.0,705.0 517.5,707.5 525.0,709.0 535.0,711.2 545.0,712.8 555.0,714.2 565.0,717.0 575.0,721.5 585.0,725.5 587.5,726.5 597.5,727.8 607.5,728.5 617.5,729.0 627.5,730.0 637.5,732.0 647.5,733.0 655.0,734.0 665.0,737.5 675.0,742.0 685.0,745.5 695.0,748.5 705.0,751.5 715.0,754.5 725.0,756.5 735.0,757.5 745.0,759.0 755.0,759.2 765.0,758.8 775.0,759.5 785.0,761.5 792.5,761.5 800.0,761.0 807.5,759.0 815.0,757.5 822.5,754.0 830.0,749.5 840.0,745.5 850.0,741.0 860.0,737.0 870.0,731.5 880.0,725.5 890.0,720.0 900.0,713.5 910.0,708.5 920.0,704.0 930.0,699.0 940.0,692.5 950.0,687.5 960.0,684.5 970.0,682.5 980.0,680.0 990.0,676.0 1000.0,673.0 1010.0,669.5 1020.0,666.0 1030.0,663.0 1040.0,660.0 1050.0,657.5 1060.0,656.5 1070.0,656.0 1076.0,655.5" fill="none" stroke="#5fcd73" stroke-width="2" stroke-linejoin="round"/>
<polygon points="1076.8,649.1 1084.9,641 1126,641 1126,657.1 1084.9,657.1" fill="#55c873"/>
<circle cx="1075.4" cy="665.2" r="5.4" fill="#3ce164"/>
<clipPath id="fc"><polygon points="1077,665.1 1084.9,657.1 1126,657.1 1126,673 1084.9,673"/></clipPath>
<polygon points="1077,665.1 1084.9,657.1 1126,657.1 1126,673 1084.9,673" fill="#00a0d0"/>
<circle cx="1075.4" cy="665.2" r="5.4" fill="#14bee0" clip-path="url(#fc)"/>
<circle cx="48.8" cy="529.4" r="6" fill="#149bd3"/>
<line x1="238.4" x2="254.7" y1="530" y2="530" stroke="#5ccb6f" stroke-width="2"/>
<path d="M575,122 A22,22 0 1 1 559.86,159.96" fill="none" stroke="#ffff00" stroke-width="4.4"/>
<polyline points="480.3,13.7 473.3,20 480.3,26.3" fill="none" stroke="#1096cd" stroke-width="1.8"/>
<polyline points="673.4,13.7 680.4,20 673.4,26.3" fill="none" stroke="#1096cd" stroke-width="1.8"/>
<polyline points="650.5,19 655.5,23.5 660.5,19" fill="none" stroke="#1096cd" stroke-width="1.5"/>
<polyline points="376,67.5 381.3,72 386.6,67.5" fill="none" stroke="#1096cd" stroke-width="1.5"/>
<circle cx="111.4" cy="66.4" r="7.55" fill="none" stroke="#0f9dd3" stroke-width="2.4"/>
<line x1="117.2" y1="72.2" x2="121.4" y2="76.2" stroke="#0f9dd3" stroke-width="3.1" stroke-linecap="round"/>
<polygon points="97,111.1 108.9,122.9 97,134.7 85.1,122.9" fill="none" stroke="#5a1c24" stroke-width="0.8" stroke-dasharray="1.5,1.2"/>
<circle cx="97" cy="122.9" r="8.2" fill="#c93a41"/>
<path d="M92.9,118.9 L100,125.6" fill="none" stroke="#2a161c" stroke-width="1.6"/>
<path d="M93.9,126.2 L100.5,126.2 L100.5,119.5" fill="none" stroke="#2a161c" stroke-width="1.4"/>
<circle cx="1100.9" cy="14" r="2" fill="#1a9fd3"/>
<circle cx="1100.9" cy="20" r="2" fill="#1a9fd3"/>
<circle cx="1100.9" cy="26" r="2" fill="#1a9fd3"/>
<circle cx="1107" cy="62" r="2" fill="#1a9fd3"/>
<circle cx="1107" cy="68.1" r="2" fill="#1a9fd3"/>
<circle cx="1107" cy="74.2" r="2" fill="#1a9fd3"/>
<path d="M1123.1,14.8 L1133.3,25.2 M1133.3,14.8 L1123.1,25.2" stroke="#16a0d2" stroke-width="3" fill="none"/>
<path d="M1068,11.9 H1076.6 L1081,16.3 V27.2 Q1081,28.2 1080,28.2 H1068 Q1067,28.2 1067,27.2 V12.9 Q1067,11.9 1068,11.9 Z" fill="none" stroke="#0c99cf" stroke-width="1.6" stroke-linejoin="round"/>
<path d="M1075.9,12 V16.9 H1081" fill="none" stroke="#0c99cf" stroke-width="1.4"/>
<path d="M1073.4,16.2 C1073.9,19 1073.7,20.5 1073.4,21.6 C1072.6,23.6 1071,24.8 1069.3,25.9 M1073.4,21.4 C1074.6,22.6 1076.5,23 1078.9,23.1" fill="none" stroke="#0c99cf" stroke-width="1.2" stroke-linecap="round"/>
<path d="M1071.5,65 L1071.5,59.7 L1077,59.7 M1083,76.3 L1088.5,76.3 L1088.5,71" fill="none" stroke="#1a9fd3" stroke-width="1.5"/>
<path d="M1073,75 L1087,61" stroke="#1a9fd3" stroke-width="2.6" fill="none"/>
<path d="M1082.6,59.1 L1089,59.1 L1089,65.5 Z M1071,70.5 L1071,76.9 L1077.4,76.9 Z" fill="#1a9fd3"/>
</svg>
<span class="t" style="top:551.19px;font-size:11px;color:#e0e0e0;-webkit-text-stroke:0.2px #e0e0e0;left:1036.50px;transform-origin:0 50%;transform:scaleX(0.9575);">1,15</span>
<span class="t" style="top:608.19px;font-size:11px;color:#e0e0e0;-webkit-text-stroke:0.2px #e0e0e0;left:1036.50px;transform-origin:0 50%;transform:scaleX(0.9155);">1,1</span>
<span class="t" style="top:666.19px;font-size:11px;color:#e0e0e0;-webkit-text-stroke:0.2px #e0e0e0;left:1036.50px;transform-origin:0 50%;transform:scaleX(0.9575);">1,05</span>
<span class="t" style="top:724.19px;font-size:11px;color:#e0e0e0;-webkit-text-stroke:0.2px #e0e0e0;left:1036.50px;transform-origin:0 50%;transform:scaleX(0.8990);">1</span>
<span class="t" style="top:782.19px;font-size:11px;color:#e0e0e0;-webkit-text-stroke:0.2px #e0e0e0;left:1036.50px;transform-origin:0 50%;transform:scaleX(0.9575);">0,95</span>
<span class="t" style="top:840.19px;font-size:11px;color:#e0e0e0;-webkit-text-stroke:0.2px #e0e0e0;left:1036.50px;transform-origin:0 50%;transform:scaleX(0.9482);">0,9</span>
<span class="t" style="top:638.51px;font-size:9.5px;color:#06140c;-webkit-text-stroke:0.2px #06140c;left:1083.70px;transform-origin:0 50%;transform:scaleX(0.9808);">1,0751</span>
<span class="t" style="top:654.51px;font-size:9.5px;color:#020e14;-webkit-text-stroke:0.2px #020e14;left:1083.70px;transform-origin:0 50%;transform:scaleX(0.9808);">1,0671</span>
</body></html>
